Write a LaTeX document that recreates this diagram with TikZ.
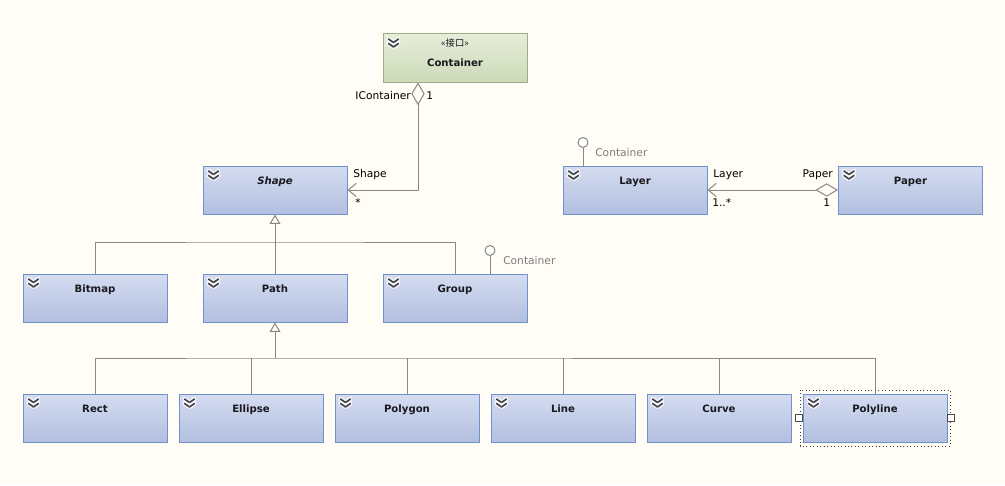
\documentclass[tikz,border=0pt]{standalone}
\usepackage{fontspec}
\setmainfont{DejaVu Sans}
\newfontfamily\cjk{Noto Sans CJK SC}
\usetikzlibrary{arrows.meta}

\definecolor{bg}{RGB}{255,253,245}
\definecolor{clsborder}{RGB}{112,146,202}
\definecolor{clstop}{RGB}{212,220,241}
\definecolor{clsbot}{RGB}{178,191,223}
\definecolor{ifborder}{RGB}{160,172,130}
\definecolor{iftop}{RGB}{230,237,218}
\definecolor{ifbot}{RGB}{204,218,183}
\definecolor{linegray}{RGB}{135,135,135}
\definecolor{labgray}{RGB}{125,125,125}
\definecolor{chevgray}{RGB}{70,70,80}
\definecolor{titletext}{RGB}{25,25,30}

\tikzset{
  cls/.style={draw=clsborder, line width=0.75pt, top color=clstop, bottom color=clsbot,
    minimum width=108pt, inner sep=0pt, text height=14pt, text depth=22pt,
    font=\bfseries\fontsize{7.6}{9}\selectfont, text=titletext},
  iface/.style={cls, draw=ifborder, top color=iftop, bottom color=ifbot,
    text height=24pt, text depth=12pt},
  lbl/.style={font=\fontsize{8}{9}\selectfont, inner sep=0pt},
  glbl/.style={lbl, text=labgray},
  conn/.style={draw=linegray, line width=0.75pt},
  gen/.style={conn, -{Triangle[fill=bg, length=7pt, width=8pt]}},
  assoc/.style={conn, {Diamond[fill=bg, length=17pt, width=10pt]}-{Straight Barb[length=6pt, width=10pt]}},
  lolly/.style={conn, fill=white},
  handle/.style={draw=black!70, fill=white, line width=0.5pt, minimum size=5pt, inner sep=0pt},
  chev/.pic={
    \draw[white, line width=3pt, line cap=round, line join=round]
      (6,5.5)--(11,9)--(16,5.5) (6,10)--(11,13.5)--(16,10);
    \draw[chevgray, line width=1.3pt, line cap=round, line join=round]
      (6,5.5)--(11,9)--(16,5.5) (6,10)--(11,13.5)--(16,10);
  }
}

\begin{document}
\begin{tikzpicture}[x=0.75pt, y=-0.75pt, line join=round, >=stealth]
  \fill[bg] (0,0) rectangle (1005,485);
  \useasboundingbox (0,0) rectangle (1005,485);

  % classes
  \node[iface] (container) at (455,58) {Container};
  \node[font=\cjk\fontsize{7}{8}\selectfont, text=titletext, inner sep=0pt] (stereo) at (455,43) {«接口»};
  \node[cls] (shape) at (275,190) {\itshape Shape};
  \node[cls] (layer) at (635,190) {Layer};
  \node[cls] (paper) at (910.5,190) {Paper};
  \node[cls] (bitmap) at (95,298) {Bitmap};
  \node[cls] (pathc) at (275,298) {Path};
  \node[cls] (group) at (455,298) {Group};
  \node[cls] (rect) at (95,418) {Rect};
  \node[cls] (ellipse) at (251,418) {Ellipse};
  \node[cls] (polygon) at (407,418) {Polygon};
  \node[cls] (linec) at (563,418) {Line};
  \node[cls] (curve) at (719,418) {Curve};
  \node[cls] (polyline) at (875,418) {Polyline};

  \foreach \c in {container,shape,layer,paper,bitmap,pathc,group,rect,ellipse,polygon,linec,curve,polyline}
    \pic at (\c.north west) {chev};

  % selection of Polyline
  \draw[black!75, line width=0.6pt, dotted] (800,390) rectangle (950,446);
  \node[handle] (hleft) at (799,418) {};
  \node[handle] (hright) at (951,418) {};

  % generalisations
  \coordinate (j1) at (275,242);
  \coordinate (j2) at (275,358);
  \draw[gen] (j1) -- (shape.south);
  \draw[conn] (bitmap.north) |- (j1) -| (group.north);
  \draw[conn] (j1) -- (pathc.north);
  \draw[gen] (j2) -- (pathc.south);
  \draw[conn] (rect.north) |- (j2) -| (polyline.north);
  \foreach \c in {ellipse,polygon,linec,curve}
    \draw[conn] (\c.north) -- (\c.north |- j2);

  % associations
  \coordinate (cdia) at ([xshift=-27.75pt]container.south);
  \draw[assoc] (cdia) |- (shape.east);
  \draw[assoc] (paper.west) -- (layer.east);
  \node[lbl, anchor=east] (licont) at (411,96) {IContainer};
  \node[lbl, anchor=west] (lone) at (426,96) {1};
  \node[lbl, anchor=west] (lshape) at (353,175) {Shape};
  \node[lbl, anchor=west] (lstar) at (355,203) {*};
  \node[lbl, anchor=west] (llayer) at (713,175) {Layer};
  \node[lbl, anchor=west] (lmany) at (712,203) {1..*};
  \node[lbl, anchor=east] (lpaper) at (833,175) {Paper};
  \node[lbl, anchor=west] (lone2) at (823,203) {1};

  % provided interfaces
  \draw[conn] ([xshift=26.25pt]group.north) -- ++(0,-18) coordinate (gl);
  \draw[lolly] ([yshift=3.75pt]gl) circle[radius=3.75pt];
  \node[glbl, anchor=west] (lgcont) at (503,261) {Container};
  \draw[conn] ([xshift=-39pt]layer.north) -- ++(0,-18) coordinate (ll);
  \draw[lolly] ([yshift=3.75pt]ll) circle[radius=3.75pt];
  \node[glbl, anchor=west] (llcont) at (595,153) {Container};
\end{tikzpicture}
\end{document}
